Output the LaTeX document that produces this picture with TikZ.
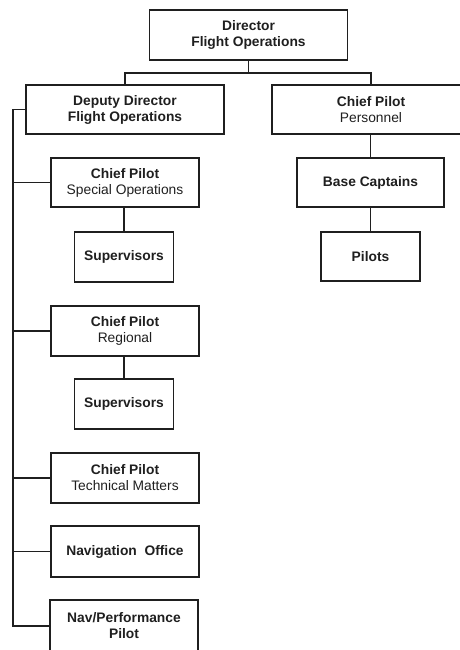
\documentclass[tikz,border=0pt]{standalone}
\usepackage{fontspec}
\setmainfont{Liberation Sans}
\begin{document}
\begin{tikzpicture}[x=1pt,y=-1pt,line width=1.8pt,color=black!88,
  font=\fontsize{13.8}{16}\selectfont,
  unit/.style={draw,align=center,inner sep=0pt,minimum height=50pt},
  wideunit/.style={unit,minimum width=198pt},
  midunit/.style={unit,minimum width=148pt},
  smallunit/.style={unit,minimum width=99pt}]
  \useasboundingbox (0,0) rectangle (460,650);
  \clip (0,0) rectangle (460,650);
  % top of the chart
  \node[wideunit] (dir) at (248.5,35) {\bfseries Director\\\bfseries Flight Operations};
  \node[wideunit,minimum height=49pt] (dep) at (125,109.5) {\bfseries Deputy Director\\\bfseries Flight Operations};
  \node[wideunit,minimum height=49pt] (cpp) at (371,109.5) {\bfseries Chief Pilot\\Personnel};
  % right branch
  \node[midunit,minimum width=147pt,minimum height=49pt] (bc) at (370.5,182.5) {\bfseries Base Captains};
  \node[smallunit,minimum height=49pt] (pil) at (370.5,256.5) {\bfseries Pilots};
  % left branch
  \node[midunit,minimum height=49pt] (cpso) at (125,182.5) {\bfseries Chief Pilot\\Special Operations};
  \node[smallunit] (sup1) at (124,257) {\bfseries Supervisors};
  \node[midunit] (cpr) at (125,331) {\bfseries Chief Pilot\\Regional};
  \node[smallunit] (sup2) at (124,404) {\bfseries Supervisors};
  \node[midunit] (cpt) at (125,478) {\bfseries Chief Pilot\\Technical Matters};
  \node[midunit,minimum height=51pt] (nav) at (125,551.5) {\bfseries Navigation\ \ Office};
  \node[midunit,minimum height=52pt] (npp) at (124,626) {\bfseries Nav/Performance\\\bfseries Pilot};
  % connectors
  \draw (dir.south) -- ++(0,12) coordinate (bus);
  \draw (dep.north) |- (bus) -| (cpp.north);
  \draw (bc.north) -- (bc.north |- cpp.south);
  \draw (pil.north) -- (pil.north |- bc.south);
  \draw (sup1.north) -- (sup1.north |- cpso.south);
  \draw (sup2.north) -- (sup2.north |- cpr.south);
  \coordinate (spine) at (13,0);
  \draw (dep.west) -| (spine |- npp.west) -- (npp.west);
  \foreach \n in {cpso,cpr,cpt,nav}
    \draw (\n.west) -- (\n.west -| spine);
\end{tikzpicture}
\end{document}
